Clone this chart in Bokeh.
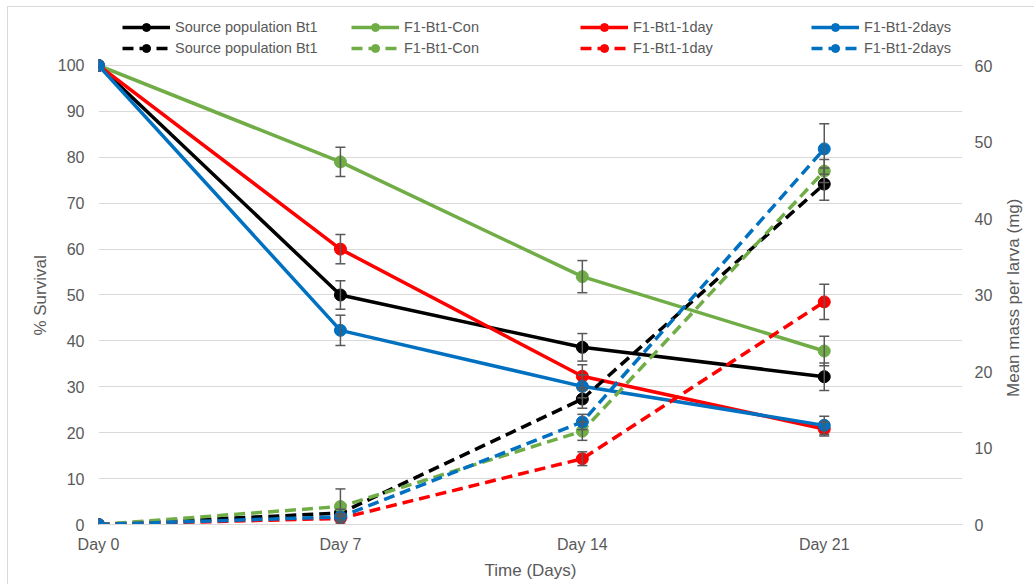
import math
from bokeh.plotting import figure
from bokeh.models import (Range1d, LinearAxis, FixedTicker, Whisker, ColumnDataSource,
                          Legend, LegendItem, TeeHead)
from bokeh.embed import file_html
from bokeh.resources import INLINE

# ---------------- data ----------------
days = [0, 7, 14, 21]
day_labels = ["Day 0", "Day 7", "Day 14", "Day 21"]
series_names = ["Source population Bt1", "F1-Bt1-Con", "F1-Bt1-1day", "F1-Bt1-2days"]
surv_ticks = [0, 10, 20, 30, 40, 50, 60, 70, 80, 90, 100]
mass_ticks = [0, 10, 20, 30, 40, 50, 60]

# % survival (left axis)
surv_source = [100, 50.0, 38.6, 32.2]
surv_con = [100, 79.0, 54.0, 37.8]
surv_1day = [100, 60.0, 32.3, 20.8]
surv_2days = [100, 42.3, 30.1, 21.6]
surv_source_err = [0, 3.1, 3.0, 3.0]
surv_con_err = [0, 3.2, 3.5, 3.2]
surv_1day_err = [0, 3.2, 2.5, 1.5]
surv_2days_err = [0, 3.3, 2.5, 2.0]

# mean mass per larva, mg (right axis)
mass_source = [0, 1.5, 16.4, 44.5]
mass_con = [0, 2.35, 12.2, 46.2]
mass_1day = [0, 0.8, 8.6, 29.1]
mass_2days = [0, 1.0, 13.4, 49.1]
mass_source_err = [0, 0.5, 1.2, 2.1]
mass_con_err = [0, 2.3, 1.2, 1.5]
mass_1day_err = [0, 0.4, 0.9, 2.3]
mass_2days_err = [0, 0.4, 1.0, 3.3]

colors = ["#000000", "#70AD47", "#FF0000", "#0070C0"]

FONT = "Liberation Sans"
TXT = "#595959"
GRID = "#D9D9D9"
ERR = "#595959"
PAD = "\u00a0" * 11   # shifts the left title to the centre of the 0-100 span
RPAD = "\u00a0" * 27  # lifts the right title off the bottom of the frame

# frame extends above 100 % to hold the legend rows
Y_TOP = 111.11
MASS_TOP = 66.667

p = figure(frame_width=864, frame_height=510,
           x_range=Range1d(0, 25), y_range=Range1d(0, Y_TOP),
           output_backend="svg", toolbar_location=None,
           min_border_left=90, min_border_right=68,
           min_border_top=7, min_border_bottom=60)
p.outline_line_color = None
p.background_fill_color = "white"
p.border_fill_color = "white"
p.styles = {"margin-left": "7px", "margin-top": "6px",
            "border-left": "1px solid #D9D9D9", "border-top": "1px solid #D9D9D9"}

# x axis
xa = p.xaxis[0]
xa.ticker = FixedTicker(ticks=days)
xa.major_label_overrides = {d: lab for d, lab in zip(days, day_labels)}
xa.axis_label = "Time (Days)"
xa.axis_line_color = GRID
xa.major_label_standoff = 11
xa.axis_label_standoff = 5
p.xgrid.grid_line_color = None

# left axis
ya = p.yaxis[0]
ya.ticker = FixedTicker(ticks=surv_ticks)
ya.axis_label = "% Survival" + PAD
ya.axis_line_color = None
ya.major_label_standoff = 14
ya.axis_label_standoff = 5
p.ygrid.grid_line_color = GRID

# right axis
p.extra_y_ranges = {"mass": Range1d(0, MASS_TOP)}
ra = LinearAxis(y_range_name="mass", axis_label=RPAD + "Mean mass per larva (mg)",
                ticker=FixedTicker(ticks=mass_ticks))
ra.axis_line_color = None
ra.major_label_standoff = 12
ra.axis_label_standoff = 18
ra.axis_label_orientation = math.pi / 2
ra.axis_label_align = "start"
p.add_layout(ra, "right")

for ax in [xa, ya, ra]:
    ax.major_tick_line_color = None
    ax.minor_tick_line_color = None
    ax.major_tick_out = 0
    ax.major_tick_in = 0
    ax.minor_tick_out = 0
    ax.minor_tick_in = 0
    ax.major_label_text_font = FONT
    ax.major_label_text_font_size = "16px"
    ax.major_label_text_color = TXT
    ax.axis_label_text_font = FONT
    ax.axis_label_text_font_size = "17px"
    ax.axis_label_text_font_style = "normal"
    ax.axis_label_text_color = TXT

surv = [surv_source, surv_con, surv_1day, surv_2days]
surv_err = [surv_source_err, surv_con_err, surv_1day_err, surv_2days_err]
mass = [mass_source, mass_con, mass_1day, mass_2days]
mass_err = [mass_source_err, mass_con_err, mass_1day_err, mass_2days_err]

solid_items = []
dash_items = []

def add_whisker(vals, errs, rng):
    src = ColumnDataSource(dict(x=days[1:],
                                up=[v + e for v, e in zip(vals[1:], errs[1:])],
                                lo=[v - e for v, e in zip(vals[1:], errs[1:])]))
    kw = {}
    if rng:
        kw["y_range_name"] = rng
    w = Whisker(source=src, base="x", upper="up", lower="lo",
                line_color=ERR, line_width=1.5,
                upper_head=TeeHead(size=10, line_color=ERR, line_width=1.5),
                lower_head=TeeHead(size=10, line_color=ERR, line_width=1.5),
                level="glyph", **kw)
    p.add_layout(w)

# solid series: survival
for vals, errs, c in zip(surv, surv_err, colors):
    add_whisker(vals, errs, None)
    lr = p.line(days, vals, line_color=c, line_width=3.5)
    sr = p.scatter(days, vals, size=12, fill_color=c, line_color=c)
    solid_items.append((lr, sr))

# dashed series: mass
for vals, errs, c in zip(mass, mass_err, colors):
    add_whisker(vals, errs, "mass")
    lr = p.line(days, vals, line_color=c, line_width=3.5, line_dash="11 6",
                y_range_name="mass")
    sr = p.scatter(days, vals, size=12, fill_color=c, line_color=c,
                   y_range_name="mass")
    dash_items.append((lr, sr))

x_offsets = [24, 253, 482, 713]
for i, name in enumerate(series_names):
    items = [LegendItem(label=name, renderers=list(solid_items[i])),
             LegendItem(label=name, renderers=list(dash_items[i]))]
    leg = Legend(items=items, location=(x_offsets[i], 466),
                 orientation="vertical", padding=0, margin=0, spacing=1,
                 glyph_width=48, glyph_height=20, label_height=20,
                 label_standoff=5, border_line_color=None,
                 background_fill_alpha=0,
                 label_text_font=FONT, label_text_font_size="14.5px",
                 label_text_color=TXT)
    p.add_layout(leg, "center")

open("out.html", "w").write(file_html(p, INLINE))
